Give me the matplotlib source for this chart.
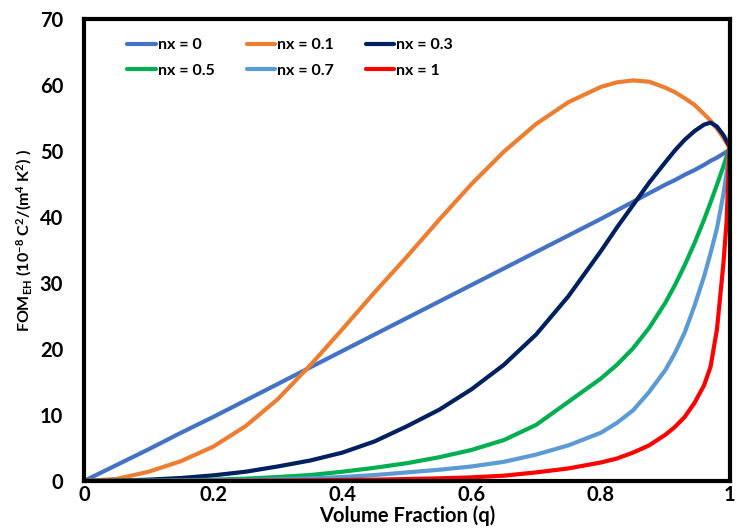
import matplotlib
matplotlib.use("Agg")
import matplotlib.pyplot as plt

plt.rcParams["font.family"] = ["Lato", "DejaVu Sans"]
plt.rcParams["font.weight"] = "bold"
plt.rcParams["mathtext.fontset"] = "custom"
plt.rcParams["mathtext.rm"] = "Lato:bold"
plt.rcParams["mathtext.it"] = "Lato:bold"
plt.rcParams["mathtext.bf"] = "Lato:bold"
plt.rcParams["mathtext.default"] = "rm"

# volume fraction (denser near q = 1 where the curves bend sharply)
q = [0, 0.05, 0.1, 0.15, 0.2, 0.25, 0.3, 0.35, 0.4, 0.45, 0.5, 0.55, 0.6, 0.65, 0.7, 0.75,
     0.8, 0.825, 0.85, 0.875, 0.9, 0.915, 0.93, 0.945, 0.96, 0.97, 0.98, 0.99, 0.995, 1.0]

fom_nx0 = [0, 2.4, 4.8, 7.3, 9.7, 12.2, 14.7, 17.2, 19.7, 22.2, 24.7, 27.2, 29.7, 32.2, 34.7, 37.2,
           39.7, 41.0, 42.3, 43.6, 44.9, 45.6, 46.4, 47.1, 47.9, 48.5, 49.0, 49.6, 49.9, 50.3]
fom_nx01 = [0, 0.3, 1.4, 3.0, 5.2, 8.3, 12.4, 17.5, 23.0, 28.6, 34.0, 39.6, 45.0, 49.9, 54.1, 57.4,
            59.7, 60.4, 60.7, 60.5, 59.6, 58.9, 58.0, 57.0, 55.6, 54.6, 53.4, 52.0, 51.2, 50.5]
fom_nx03 = [0, 0.05, 0.2, 0.45, 0.85, 1.4, 2.2, 3.1, 4.3, 6.0, 8.3, 10.8, 13.9, 17.6, 22.2, 28.0,
            34.8, 38.4, 41.8, 45.2, 48.3, 50.1, 51.7, 53.0, 54.0, 54.3, 53.7, 52.4, 51.5, 50.5]
fom_nx05 = [0, 0.02, 0.05, 0.1, 0.2, 0.35, 0.6, 0.9, 1.4, 2.0, 2.7, 3.6, 4.7, 6.2, 8.5, 12.0,
            15.5, 17.6, 20.1, 23.2, 27.0, 29.7, 32.7, 36.0, 39.6, 42.2, 44.9, 47.7, 49.2, 50.5]
fom_nx07 = [0, 0, 0.02, 0.05, 0.1, 0.15, 0.25, 0.4, 0.6, 0.9, 1.3, 1.7, 2.2, 2.9, 4.0, 5.4,
            7.3, 8.8, 10.7, 13.5, 16.8, 19.4, 22.5, 26.5, 31.0, 34.5, 38.3, 43.5, 46.8, 50.5]
fom_nx1 = [0, 0, 0, 0.01, 0.02, 0.04, 0.06, 0.1, 0.15, 0.2, 0.3, 0.4, 0.55, 0.8, 1.3, 1.9,
           2.8, 3.4, 4.3, 5.4, 7.0, 8.2, 9.7, 11.8, 14.5, 17.3, 23.0, 33.0, 39.5, 52.5]

series = [
    ("nx = 0", fom_nx0, "#4472C4"),
    ("nx = 0.1", fom_nx01, "#ED7D31"),
    ("nx = 0.3", fom_nx03, "#002060"),
    ("nx = 0.5", fom_nx05, "#00B050"),
    ("nx = 0.7", fom_nx07, "#5B9BD5"),
    ("nx = 1", fom_nx1, "#FF0000"),
]

fig = plt.figure(figsize=(7.39, 5.31), dpi=100)
ax = fig.add_axes([0.1137, 0.0942, 0.874, 0.870])

lines = []
for label, vals, color in series:
    ln, = ax.plot(q, vals, color=color, lw=3, label=label,
                  solid_capstyle="round", solid_joinstyle="round")
    lines.append(ln)

ax.set_xlim(0, 1)
ax.set_ylim(0, 70)
ax.set_xticks([0, 0.2, 0.4, 0.6, 0.8, 1])
ax.set_xticklabels(["0", "0.2", "0.4", "0.6", "0.8", "1"])
ax.set_yticks(range(0, 71, 10))
ax.tick_params(axis="both", length=0, labelsize=14.5)
ax.tick_params(axis="x", pad=3)
ax.tick_params(axis="y", pad=15)
for sp in ax.spines.values():
    sp.set_linewidth(3)
    sp.set_color("black")

ax.set_xlabel("Volume Fraction (q)", fontsize=14.5, fontweight="bold", labelpad=0)
ax.set_ylabel(r"FOM$_{EH}$ (10$^{-8}$ C$^{2}$/(m$^{4}$ K$^{2}$) )",
              fontsize=11.5, fontweight="bold")
ax.yaxis.set_label_coords(-0.078, 0.52)

# reorder so that the legend reads row-wise
order = [0, 3, 1, 4, 2, 5]
ax.legend([lines[i] for i in order], [series[i][0] for i in order],
          ncol=3, loc="upper left", bbox_to_anchor=(0.045, 0.99), frameon=False,
          handlelength=1.8, handletextpad=0.1, columnspacing=2.0,
          labelspacing=0.7, prop={"weight": "bold", "size": 11.5})

fig.savefig("out.png", dpi=100)
